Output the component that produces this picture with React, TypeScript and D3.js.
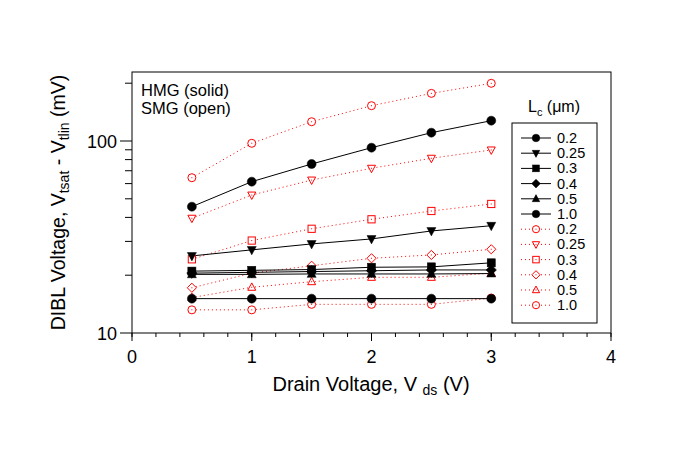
import React from 'react';
import * as d3 from 'd3';

const vds = [0.5, 1, 1.5, 2, 2.5, 3];
const lcLabels = ['0.2', '0.25', '0.3', '0.4', '0.5', '1.0'];
const shapes = ['circle', 'triDown', 'square', 'diamond', 'triUp', 'circle'];

const hmg02 = [45.5, 61.4, 75.9, 92.3, 110.5, 127.6];
const hmg025 = [25.2, 27.1, 29.1, 30.9, 34.0, 36.2];
const hmg03 = [21.0, 21.2, 21.4, 22.0, 22.1, 23.2];
const hmg04 = [20.5, 20.7, 20.9, 21.1, 21.3, 21.3];
const hmg05 = [20.2, 20.2, 20.3, 20.3, 20.3, 20.4];
const hmg10 = [15.1, 15.1, 15.1, 15.1, 15.1, 15.1];

const smg02 = [64.4, 97.3, 126, 152.7, 177, 199.7];
const smg025 = [39.6, 52.3, 62.6, 72.1, 81.3, 89.8];
const smg03 = [24.2, 30.3, 34.9, 39.1, 43.2, 47.0];
const smg04 = [17.2, 20.5, 22.4, 24.5, 25.5, 27.3];
const smg05 = [15.3, 17.3, 18.5, 19.5, 19.5, 20.5];
const smg10 = [13.2, 13.2, 14.1, 14.1, 14.1, 15.2];

const hmgSeries = [hmg02, hmg025, hmg03, hmg04, hmg05, hmg10];
const smgSeries = [smg02, smg025, smg03, smg04, smg05, smg10];

const xTicks = [0, 1, 2, 3, 4];
const yTicks = [10, 100];

const W = 683, H = 451;
const L = 132, R = 611, T = 72, B = 333;
const FONT = 'Liberation Sans, Arial, sans-serif';

function Marker({ shape, x, y, s, filled, color }: any) {
  const fill = filled ? color : 'white';
  const sw = filled ? 0.5 : 1;
  let el: any;
  if (shape === 'circle') {
    el = <circle cx={x} cy={y} r={s} fill={fill} stroke={color} strokeWidth={sw} />;
  } else if (shape === 'square') {
    el = <rect x={x - s * 0.9} y={y - s * 0.9} width={s * 1.8} height={s * 1.8} fill={fill} stroke={color} strokeWidth={sw} />;
  } else if (shape === 'diamond') {
    el = <path d={`M${x},${y - s * 1.15}L${x + s * 1.15},${y}L${x},${y + s * 1.15}L${x - s * 1.15},${y}Z`} fill={fill} stroke={color} strokeWidth={sw} />;
  } else if (shape === 'triUp') {
    el = <path d={`M${x},${y - s * 1.1}L${x + s},${y + s * 0.75}L${x - s},${y + s * 0.75}Z`} fill={fill} stroke={color} strokeWidth={sw} />;
  } else {
    el = <path d={`M${x},${y + s * 1.1}L${x + s},${y - s * 0.75}L${x - s},${y - s * 0.75}Z`} fill={fill} stroke={color} strokeWidth={sw} />;
  }
  return (
    <g>
      {el}
      {!filled && <rect x={x - 0.5} y={y - 0.5} width={1} height={1} fill={color} />}
    </g>
  );
}

export default function App() {
  const x = d3.scaleLinear().domain([0, 4]).range([L, R]);
  const y = d3.scaleLog().domain([10, 10 ** ((B - T) / 192 + 1)]).range([B, T]);
  const line = d3.line<number>().x((_, i) => x(vds[i])).y((d) => y(d));

  const xMinor = d3.range(0, 4.001, 0.2);
  const yMinor = [20, 30, 40, 50, 60, 70, 80, 90, 200];

  const legX = 521, legY0 = 138, legDy = 15.2;

  return (
    <svg width={W} height={H} style={{ position: 'absolute', left: 0, top: 0, background: 'white' }} fontFamily={FONT}>
      <rect x={0} y={0} width={W} height={H} fill="white" />
      {/* frame */}
      <rect x={L} y={T} width={R - L} height={B - T} fill="none" stroke="black" strokeWidth={1} />
      {/* x ticks */}
      {xMinor.map((t, i) => (
        <line key={'xm' + i} x1={x(t)} x2={x(t)} y1={B} y2={B + 4} stroke="black" />
      ))}
      {xTicks.map((t) => (
        <g key={'xt' + t}>
          <line x1={x(t)} x2={x(t)} y1={B} y2={B + 8} stroke="black" />
          <text x={x(t)} y={363} textAnchor="middle" fontSize={18}>{t}</text>
        </g>
      ))}
      {/* y ticks */}
      {yMinor.map((t) => (
        <line key={'ym' + t} x1={L - 7} x2={L} y1={y(t)} y2={y(t)} stroke="black" />
      ))}
      {yTicks.map((t) => (
        <g key={'yt' + t}>
          <line x1={L - 12} x2={L} y1={y(t)} y2={y(t)} stroke="black" />
          <text x={L - 15} y={y(t) + 6.5} textAnchor="end" fontSize={18}>{t}</text>
        </g>
      ))}
      {/* axis titles */}
      <text x={371} y={391} textAnchor="middle" fontSize={20}>
        Drain Voltage, V <tspan fontSize={14} dy={4}>ds</tspan><tspan dy={-4}> (V)</tspan>
      </text>
      <text transform={`translate(65,${(T + B) / 2}) rotate(-90)`} textAnchor="middle" fontSize={19.5}>
        DIBL Voltage, V<tspan fontSize={14} dy={4}>tsat</tspan><tspan dy={-4}> - V</tspan><tspan fontSize={14} dy={4}>tlin</tspan><tspan dy={-4}> (mV)</tspan>
      </text>
      <text x={141} y={96} fontSize={16.5}>HMG (solid)</text>
      <text x={141} y={114} fontSize={16.5}>SMG (open)</text>

      {/* series */}
      {smgSeries.map((s, k) => (
        <path key={'sl' + k} d={line(s) || ''} fill="none" stroke="red" strokeWidth={1} strokeDasharray="1,3" />
      ))}
      {hmgSeries.map((s, k) => (
        <path key={'hl' + k} d={line(s) || ''} fill="none" stroke="black" strokeWidth={1} />
      ))}
      {smgSeries.map((s, k) =>
        s.map((v, i) => (
          <Marker key={'sm' + k + '-' + i} shape={shapes[k]} x={x(vds[i])} y={y(v)} s={4} filled={false} color="red" />
        ))
      )}
      {hmgSeries.map((s, k) =>
        s.map((v, i) => (
          <Marker key={'hm' + k + '-' + i} shape={shapes[k]} x={x(vds[i])} y={y(v)} s={4.5} filled={true} color="black" />
        ))
      )}

      {/* legend */}
      <text x={554} y={112} textAnchor="middle" fontSize={16}>
        L<tspan fontSize={11} dy={4}>c</tspan><tspan dy={-4}> (μm)</tspan>
      </text>
      <rect x={512} y={123} width={85} height={200} fill="white" stroke="black" />
      {lcLabels.map((lab, k) => {
        const yy = legY0 + k * legDy;
        return (
          <g key={'lh' + k}>
            <line x1={legX} x2={legX + 30} y1={yy} y2={yy} stroke="black" />
            <Marker shape={shapes[k]} x={legX + 15} y={yy} s={3.8} filled={true} color="black" />
            <text x={557} y={yy + 5} fontSize={14.5}>{lab}</text>
          </g>
        );
      })}
      {lcLabels.map((lab, k) => {
        const yy = legY0 + (k + 6) * legDy;
        return (
          <g key={'ls' + k}>
            <line x1={legX} x2={legX + 30} y1={yy} y2={yy} stroke="red" strokeDasharray="1,3" />
            <Marker shape={shapes[k]} x={legX + 15} y={yy} s={3.6} filled={false} color="red" />
            <text x={557} y={yy + 5} fontSize={14.5}>{lab}</text>
          </g>
        );
      })}
    </svg>
  );
}
